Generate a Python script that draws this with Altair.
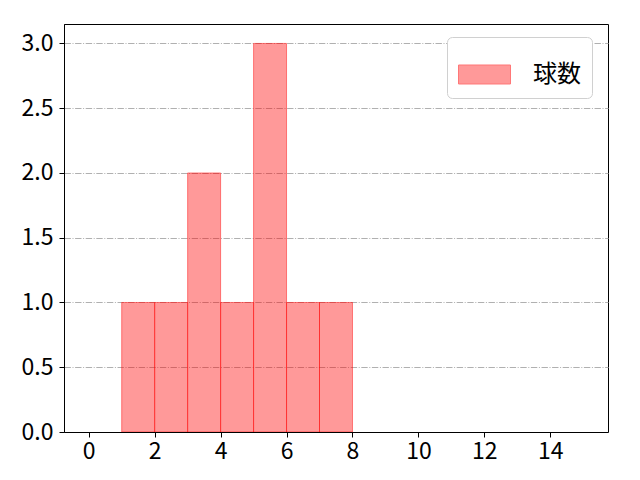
import altair as alt
import pandas as pd

bin_start = [1, 2, 3, 4, 5, 6, 7]
bin_end = [2, 3, 4, 5, 6, 7, 8]
counts = [1, 1, 2, 1, 3, 1, 1]
series = ["球数"] * 7
x_ticks = [0, 2, 4, 6, 8, 10, 12, 14]
y_ticks = [0.0, 0.5, 1.0, 1.5, 2.0, 2.5, 3.0]

df = pd.DataFrame({"start": bin_start, "end": bin_end, "count": counts, "series": series})

FONT = "Noto Sans CJK JP"

bars = alt.Chart(df).mark_bar(
    fill="red", fillOpacity=0.4, stroke="red", strokeOpacity=0.45, strokeWidth=1
).encode(
    x=alt.X("start:Q",
            scale=alt.Scale(domain=[-0.75, 15.75], nice=False, zero=False),
            axis=alt.Axis(values=x_ticks, format="d", grid=False, title=None,
                          labelFontSize=23, labelFont=FONT, labelColor="black",
                          tickSize=5, tickColor="black", domainColor="black",
                          labelPadding=3, labelFlush=False, zindex=2)),
    x2="end:Q",
    y=alt.Y("count:Q",
            scale=alt.Scale(domain=[0, 3.15], nice=False),
            axis=alt.Axis(values=y_ticks, format=".1f", title=None,
                          grid=True, gridColor="#b0b0b0", gridWidth=1,
                          gridDash=[6.4, 1.6, 1, 1.6], zindex=0,
                          labelFontSize=23, labelFont=FONT, labelColor="black",
                          tickSize=5, tickColor="black", domainColor="black",
                          labelPadding=6)),
    y2=alt.datum(0),
    color=alt.Color("series:N",
                    scale=alt.Scale(range=["#ff9999"]),
                    legend=alt.Legend(
                        title=None, orient="none", legendX=383, legendY=13,
                        symbolType="M-1,-0.365L1,-0.365L1,0.365L-1,0.365Z",
                        symbolSize=2704, symbolFillColor="#ff9999",
                        symbolStrokeColor="#ff7777", symbolStrokeWidth=1,
                        labelFontSize=24, labelFont=FONT, labelColor="black",
                        labelOffset=22, padding=11,
                        strokeColor="#d0d0d0", cornerRadius=5, fillColor="white",
                    )),
)

chart = bars.properties(
    width=544, height=408,
    background="white",
    autosize=alt.AutoSizeParams(type="none"),
    padding={"left": 56, "top": 16, "right": 16, "bottom": 40},
).configure_view(stroke="black", strokeWidth=1)

chart.save("out.html", embed_options={"renderer": "svg", "actions": False})
